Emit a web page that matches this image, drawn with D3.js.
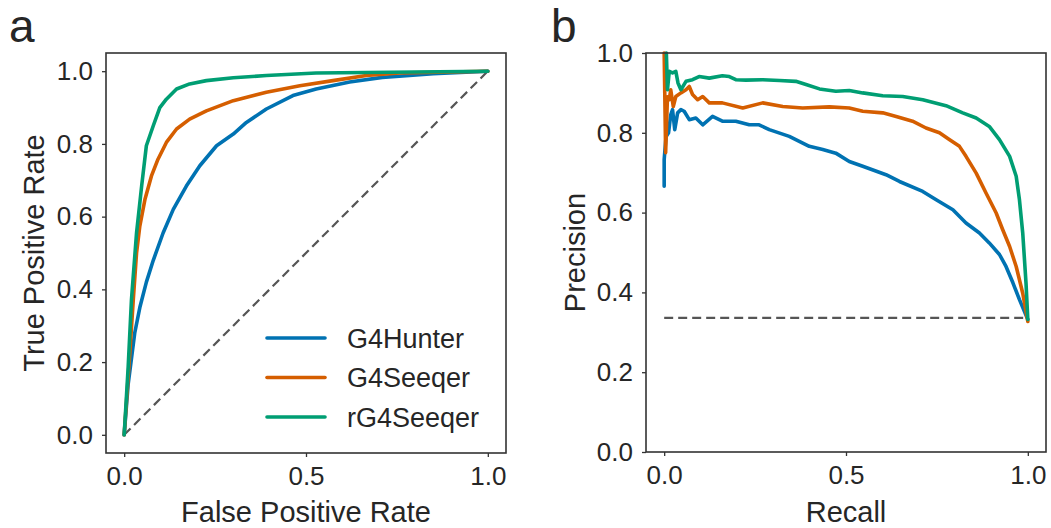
<!DOCTYPE html>
<html><head><meta charset="utf-8">
<script src="https://cdn.jsdelivr.net/npm/d3@7"></script>
<style>body{margin:0;background:#fff}svg{display:block}text{font-family:"Liberation Sans",Arial,sans-serif;fill:#262626}</style>
</head><body>
<svg id="c" width="1051" height="528"></svg>
<script>
const seriesNames = ["G4Hunter", "G4Seeqer", "rG4Seeqer"];
const seriesColors = ["#0072B2", "#D55E00", "#009E73"];
const tickValues = [0, 0.2, 0.4, 0.6, 0.8, 1.0];
const xTickValues = [0, 0.5, 1.0];

// ROC curves: [FPR, TPR]
const rocG4Hunter = [[0,0],[0.011,0.14],[0.029,0.28],[0.043,0.35],[0.061,0.42],[0.08,0.48],[0.107,0.555],[0.135,0.62],[0.171,0.684],[0.208,0.74],[0.254,0.795],[0.30,0.827],[0.336,0.859],[0.391,0.896],[0.464,0.933],[0.528,0.951],[0.62,0.97],[0.71,0.983],[0.85,0.993],[1,1]];
const rocG4Seeqer = [[0,0],[0.016,0.233],[0.025,0.371],[0.034,0.50],[0.043,0.574],[0.057,0.647],[0.075,0.712],[0.093,0.758],[0.116,0.804],[0.144,0.841],[0.18,0.868],[0.226,0.891],[0.30,0.919],[0.391,0.942],[0.483,0.96],[0.574,0.974],[0.666,0.988],[0.757,0.995],[1,1]];
const rocRG4Seeqer = [[0,0],[0.011,0.187],[0.02,0.371],[0.034,0.555],[0.048,0.684],[0.061,0.795],[0.08,0.85],[0.098,0.90],[0.116,0.923],[0.144,0.951],[0.18,0.965],[0.226,0.974],[0.30,0.982],[0.391,0.988],[0.528,0.995],[1,1]];

// PR curves: [Recall, Precision]
const prG4Hunter = [[0,0.666],[0,0.733],[0.005,0.79],[0.012,0.80],[0.018,0.845],[0.023,0.858],[0.029,0.808],[0.037,0.85],[0.046,0.858],[0.055,0.854],[0.069,0.833],[0.087,0.837],[0.106,0.82],[0.133,0.841],[0.16,0.829],[0.197,0.829],[0.234,0.82],[0.261,0.82],[0.289,0.808],[0.344,0.791],[0.399,0.766],[0.436,0.758],[0.472,0.749],[0.509,0.728],[0.546,0.716],[0.61,0.695],[0.647,0.678],[0.711,0.653],[0.748,0.632],[0.794,0.607],[0.83,0.574],[0.867,0.549],[0.894,0.524],[0.922,0.495],[0.94,0.465],[0.959,0.424],[0.977,0.382],[1,0.332]];
const prG4Seeqer = [[0,1.0],[0.004,0.75],[0.009,0.89],[0.014,0.883],[0.018,0.908],[0.025,0.866],[0.032,0.891],[0.046,0.9],[0.06,0.908],[0.069,0.916],[0.078,0.896],[0.092,0.883],[0.106,0.891],[0.124,0.875],[0.16,0.875],[0.216,0.862],[0.271,0.875],[0.326,0.866],[0.381,0.862],[0.454,0.865],[0.509,0.862],[0.546,0.854],[0.601,0.85],[0.638,0.841],[0.683,0.829],[0.72,0.812],[0.757,0.8],[0.784,0.783],[0.812,0.766],[0.83,0.741],[0.858,0.699],[0.885,0.649],[0.913,0.599],[0.931,0.557],[0.95,0.515],[0.968,0.465],[0.986,0.398],[1,0.327]];
const prRG4Seeqer = [[0.006,1.0],[0.009,0.908],[0.014,0.954],[0.023,0.95],[0.032,0.954],[0.038,0.925],[0.046,0.908],[0.06,0.929],[0.078,0.933],[0.096,0.941],[0.124,0.937],[0.16,0.943],[0.179,0.941],[0.197,0.933],[0.225,0.932],[0.271,0.933],[0.317,0.931],[0.362,0.929],[0.39,0.921],[0.427,0.91],[0.472,0.904],[0.509,0.906],[0.546,0.9],[0.601,0.893],[0.656,0.891],[0.711,0.883],[0.775,0.868],[0.821,0.85],[0.858,0.837],[0.894,0.816],[0.922,0.783],[0.95,0.741],[0.968,0.691],[0.977,0.632],[0.986,0.549],[0.995,0.424],[1,0.332]];

const baselinePrecision = 0.336;

const rocData = [rocG4Hunter, rocG4Seeqer, rocRG4Seeqer];
const prData = [prG4Hunter, prG4Seeqer, prRG4Seeqer];

const svg = d3.select("#c");
const frameColor = "#333";
const tickFont = 26, labelFont = 29;

function panel(opts) {
  const g = svg.append("g");
  const x = d3.scaleLinear().domain(opts.xDomain).range([opts.left, opts.right]);
  const y = d3.scaleLinear().domain(opts.yDomain).range([opts.bottom, opts.top]);
  const xa = g.append("g").attr("transform", `translate(0,${opts.bottom})`)
    .call(d3.axisBottom(x).tickValues(xTickValues).tickFormat(d3.format(".1f")).tickSize(4).tickPadding(10));
  const ya = g.append("g").attr("transform", `translate(${opts.left},0)`)
    .call(d3.axisLeft(y).tickValues(tickValues).tickFormat(d3.format(".1f")).tickSize(4).tickPadding(9));
  [xa, ya].forEach(a => {
    a.select(".domain").remove();
    a.selectAll("line").attr("stroke", frameColor).attr("stroke-width", 1.3);
    a.selectAll("text").style("font-size", tickFont + "px").attr("fill", "#262626");
  });
  xa.selectAll("text").attr("dy", "0.7em");
  g.append("line")
    .attr("x1", x(opts.ref[0][0])).attr("y1", y(opts.ref[0][1]))
    .attr("x2", x(opts.ref[1][0])).attr("y2", y(opts.ref[1][1]))
    .attr("stroke", "#555").attr("stroke-width", 2.2).attr("stroke-dasharray", "9,5");
  const line = d3.line().x(d => x(d[0])).y(d => y(d[1]));
  opts.data.forEach((d, i) => {
    g.append("path").datum(d).attr("d", line).attr("fill", "none")
      .attr("stroke", seriesColors[i]).attr("stroke-width", 3.6)
      .attr("stroke-linejoin", "round").attr("stroke-linecap", "round");
  });
  g.append("rect").attr("x", opts.left).attr("y", opts.top)
    .attr("width", opts.right - opts.left).attr("height", opts.bottom - opts.top)
    .attr("fill", "none").attr("stroke", frameColor).attr("stroke-width", 1.6);
  g.append("text").attr("x", (opts.left + opts.right) / 2).attr("y", 522)
    .attr("text-anchor", "middle").style("font-size", labelFont + "px").text(opts.xLabel);
  g.append("text").attr("transform", `translate(${opts.yLabelX},${(opts.top + opts.bottom) / 2}) rotate(-90)`)
    .attr("text-anchor", "middle").style("font-size", labelFont + "px").text(opts.yLabel);
  g.append("text").attr("x", opts.letterX).attr("y", 42).style("font-size", "46px").attr("fill", "#000").text(opts.letter);
  return { g, x, y };
}

const pa = panel({ left: 106, right: 506, top: 53, bottom: 453, xDomain: [-0.05, 1.05], yDomain: [-0.05, 1.05],
  ref: [[0, 0], [1, 1]], data: rocData, xLabel: "False Positive Rate", yLabel: "True Positive Rate",
  yLabelX: 44, letter: "a", letterX: 9 });
const pb = panel({ left: 646, right: 1046, top: 53, bottom: 452, xDomain: [-0.05, 1.05], yDomain: [0, 1],
  ref: [[0, baselinePrecision], [1, baselinePrecision]], data: prData, xLabel: "Recall", yLabel: "Precision",
  yLabelX: 585, letter: "b", letterX: 551 });

const leg = pa.g.append("g");
seriesNames.forEach((n, i) => {
  const yy = 338 + i * 39.5;
  leg.append("line").attr("x1", 267).attr("x2", 325).attr("y1", yy).attr("y2", yy)
    .attr("stroke", seriesColors[i]).attr("stroke-width", 3.6).attr("stroke-linecap", "round");
  leg.append("text").attr("x", 347).attr("y", yy).attr("dy", "0.36em").style("font-size", "27px").text(n);
});
</script>
</body></html>
